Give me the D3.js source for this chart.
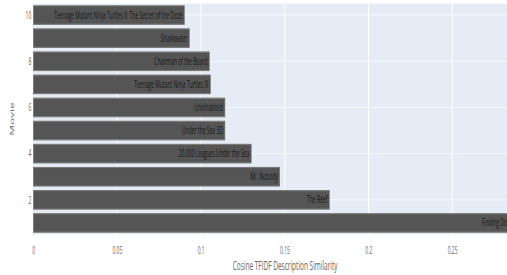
<!DOCTYPE html>
<html>
<head>
<meta charset="utf-8">
<script src="https://cdn.jsdelivr.net/npm/d3@7"></script>
<style>
  body { margin: 0; background: #fff; }
  svg { display: block; font-family: "Open Sans", sans-serif; }
</style>
</head>
<body>
<div id="chart"></div>
<script>
const movies = [
  'Finding Dory',
  'The Reef',
  'Mr. Nobody',
  '20,000 Leagues Under the Sea',
  'Under the Sea 3D',
  'Uninhabited',
  'Teenage Mutant Ninja Turtles III',
  'Chairman of the Board',
  'Sharkwater',
  'Teenage Mutant Ninja Turtles II: The Secret of the Ooze',
]
const ranks = [1, 2, 3, 4, 5, 6, 7, 8, 9, 10]
const similarity = [0.2865, 0.1766, 0.147, 0.130, 0.1143, 0.1143, 0.1057, 0.105, 0.0931, 0.0901]
const xTicks = [0, 0.05, 0.1, 0.15, 0.2, 0.25]
const yTicks = [2, 4, 6, 8, 10]

const width = 507, height = 275
// the reference is squeezed horizontally by half, so draw at double width
const sx = 0.5
const margin = { top: 3.5, left: 66.6, right: 1074, bottom: 234.5 }

const data = movies.map((m, i) => ({ movie: m, rank: ranks[i], value: similarity[i] }))

const svg = d3.select('#chart').append('svg')
  .attr('width', width)
  .attr('height', height)

const g = svg.append('g').attr('transform', 'scale(' + sx + ',1)')

const x = d3.scaleLinear().domain([0, 0.3005]).range([margin.left, margin.right])
const y = d3.scaleLinear().domain([0.5, 10.5]).range([margin.bottom, margin.top])
const bw = y(0) - y(0.8)

g.append('rect')
  .attr('x', margin.left).attr('y', margin.top)
  .attr('width', margin.right - margin.left)
  .attr('height', margin.bottom - margin.top)
  .attr('fill', '#e5ecf6')

// gridlines
g.append('g').selectAll('line').data(xTicks.slice(1)).enter().append('line')
  .attr('x1', d => x(d)).attr('x2', d => x(d))
  .attr('y1', margin.top).attr('y2', margin.bottom)
  .attr('stroke', '#fff').attr('stroke-width', 2)

g.append('g').selectAll('line').data(yTicks).enter().append('line')
  .attr('x1', margin.left).attr('x2', margin.right)
  .attr('y1', d => y(d)).attr('y2', d => y(d))
  .attr('stroke', '#fff').attr('stroke-width', 1)

// bars
const bars = g.append('g').selectAll('g').data(data).enter().append('g')

bars.append('rect')
  .attr('x', x(0))
  .attr('y', d => y(d.rank) - bw / 2)
  .attr('width', d => x(d.value) - x(0))
  .attr('height', bw)
  .attr('fill', '#555')
  .attr('stroke', '#7a7a7a')
  .attr('stroke-width', 1.2)

bars.append('text')
  .attr('x', d => x(d.value) - 4)
  .attr('y', d => y(d.rank) + 3.5)
  .attr('text-anchor', 'end')
  .attr('font-size', 10)
  .attr('fill', '#151515')
  .text(d => d.movie)

// axes
const xAxis = d3.axisBottom(x).tickValues(xTicks).tickSize(0).tickPadding(0).tickFormat(d3.format('~g'))
g.append('g')
  .attr('transform', 'translate(0,' + (margin.bottom + 12) + ')')
  .call(xAxis)
  .call(a => a.select('.domain').remove())
  .selectAll('text')
  .attr('font-size', 10).attr('fill', '#666').attr('font-family', 'Open Sans')

const yAxis = d3.axisLeft(y).tickValues(yTicks).tickSize(0).tickPadding(4)
g.append('g')
  .attr('transform', 'translate(' + margin.left + ',0)')
  .call(yAxis)
  .call(a => a.select('.domain').remove())
  .selectAll('text')
  .attr('font-size', 10).attr('fill', '#666').attr('font-family', 'Open Sans')

g.append('text')
  .attr('x', (margin.left + margin.right) / 2)
  .attr('y', 270)
  .attr('text-anchor', 'middle')
  .attr('font-size', 13)
  .attr('fill', '#666')
  .text('Cosine TFIDF Description Similarity')

g.append('text')
  .attr('transform', 'translate(27,' + (margin.top + margin.bottom) / 2 + ') rotate(-90)')
  .attr('text-anchor', 'middle')
  .attr('font-size', 12)
  .attr('fill', '#666')
  .text('Movie')
</script>
</body>
</html>
